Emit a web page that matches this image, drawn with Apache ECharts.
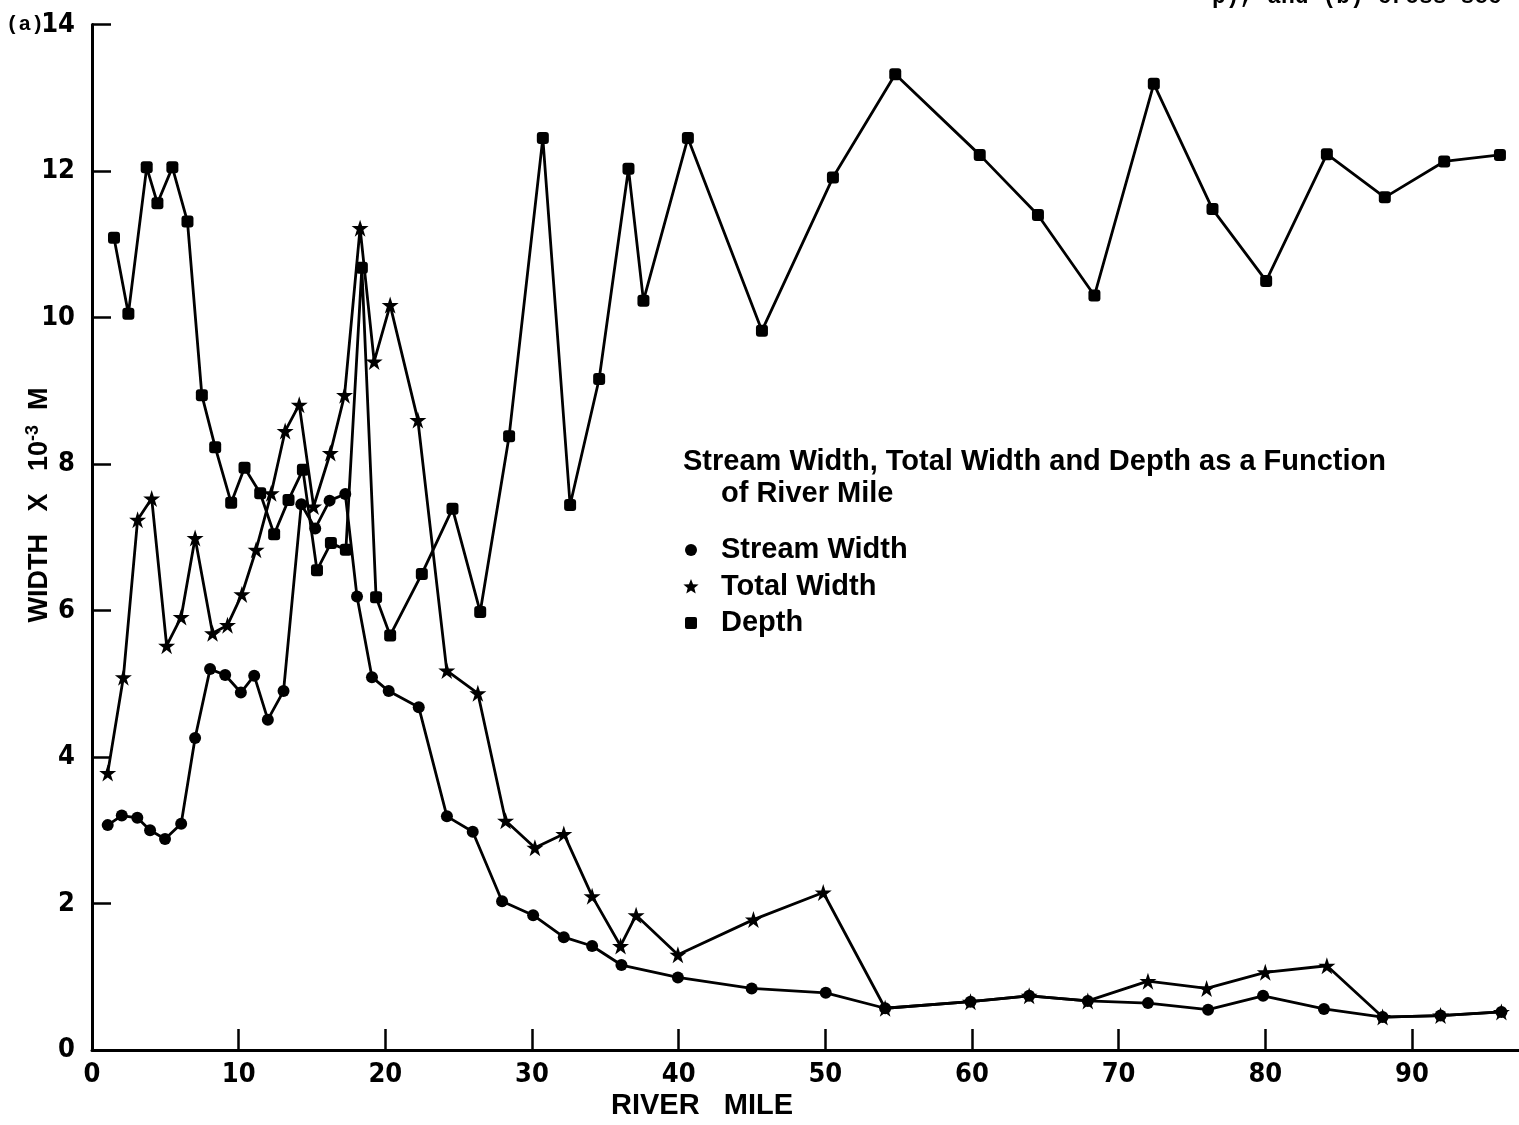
<!DOCTYPE html>
<html><head><meta charset="utf-8">
<script src="https://cdn.jsdelivr.net/npm/echarts@6/dist/echarts.min.js"></script>
<style>html,body{margin:0;padding:0;background:#fff}#c{width:1519px;height:1125px}</style>
</head><body><div id="c"></div>
<script>
const FONT = "'Liberation Sans Narrow','DejaVu Sans Condensed','Liberation Sans',Arial,sans-serif";
const TFONT = "'Liberation Sans','DejaVu Sans',Arial,sans-serif";
const xTicks = [0,10,20,30,40,50,60,70,80,90];
const yTicks = [0,2,4,6,8,10,12,14];

const streamMiles  = [1.07,2.03,3.09,3.96,4.98,6.08,7.03,8.05,9.08,10.15,11.06,11.99,13.06,14.27,15.22,16.2,17.27,18.07,19.09,20.23,22.28,24.2,25.96,27.96,30.08,32.17,34.1,36.1,39.95,44.98,50.03,54.08,59.9,63.9,67.9,72.0,76.1,79.85,84.0,88.0,91.95,96.1];
const streamValues = [3.07,3.20,3.17,3.00,2.88,3.09,4.26,5.20,5.12,4.88,5.11,4.51,4.90,7.45,7.12,7.50,7.59,6.19,5.09,4.90,4.68,3.19,2.98,2.03,1.84,1.54,1.42,1.16,0.99,0.84,0.78,0.57,0.66,0.74,0.67,0.64,0.55,0.74,0.56,0.45,0.47,0.52];

const totalMiles  = [1.07,2.14,3.11,4.07,5.09,6.08,7.03,8.22,9.24,10.22,11.19,12.22,13.17,14.13,15.11,16.25,17.22,18.28,19.24,20.33,22.22,24.19,26.31,28.2,30.2,32.17,34.1,36.04,37.1,39.95,45.1,49.86,54.08,59.9,63.9,67.9,72.0,76.0,80.0,84.2,88.0,91.95,96.1];
const totalValues = [3.78,5.09,7.24,7.53,5.52,5.91,6.99,5.69,5.80,6.22,6.83,7.60,8.45,8.81,7.42,8.15,8.94,11.22,9.40,10.17,8.60,5.18,4.87,3.13,2.76,2.95,2.10,1.42,1.84,1.30,1.78,2.15,0.57,0.66,0.74,0.67,0.94,0.84,1.06,1.15,0.45,0.47,0.52];

const depthMiles  = [1.5,2.48,3.73,4.46,5.48,6.51,7.49,8.4,9.49,10.4,11.47,12.42,13.4,14.38,15.34,16.29,17.31,18.4,19.37,20.33,22.49,24.58,26.47,28.44,30.74,32.6,34.58,36.58,37.6,40.63,45.68,50.52,54.77,60.53,64.5,68.35,72.4,76.4,80.06,84.2,88.15,92.2,96.0];
const depthValues = [11.09,10.05,12.05,11.56,12.05,11.31,8.94,8.23,7.47,7.95,7.60,7.04,7.51,7.92,6.55,6.92,6.83,10.68,6.18,5.66,6.50,7.39,5.98,8.38,12.45,7.44,9.16,12.03,10.23,12.45,9.82,11.91,13.32,12.22,11.40,10.30,13.19,11.48,10.50,12.23,11.64,12.13,12.22];

const seriesNames = ['Stream Width','Total Width','Depth'];

function pairs(m, v) { return m.map((x, i) => [x, v[i]]); }
const STAR = 'path://M50,0L61.8,35.3L99,35.3L69,57.1L80.9,92.7L50,70.5L19.1,92.7L31,57.1L1,35.3L38.2,35.3Z';

function starPoints(cx, cy, ro, ri) {
  const pts = [];
  for (let i = 0; i < 10; i++) {
    const r = i % 2 === 0 ? ro : ri;
    const a = -Math.PI / 2 + i * Math.PI / 5;
    pts.push([cx + r * Math.cos(a), cy + r * Math.sin(a)]);
  }
  return pts;
}

const chart = echarts.init(document.getElementById('c'), null, {renderer: 'canvas'});
const lineStyle = {color: '#000', width: 2.8};
const option = {
  animation: false,
  backgroundColor: '#fff',
  grid: {left: 92, right: 0, top: 24.5, bottom: 75, containLabel: false},
  xAxis: {
    type: 'value', min: 0, max: 97.3, interval: 10,
    axisLine: {lineStyle: {color: '#000', width: 3}},
    axisTick: {inside: true, length: 21, lineStyle: {color: '#000', width: 2.5}},
    axisLabel: {color: '#000', fontFamily: FONT, fontWeight: 'bold', fontSize: 27, margin: 11,
      showMaxLabel: false, formatter: v => xTicks.includes(v) ? String(v) : ''},
    splitLine: {show: false}
  },
  yAxis: {
    type: 'value', min: 0, max: 14, interval: 2,
    axisLine: {lineStyle: {color: '#000', width: 3}},
    axisTick: {inside: true, length: 19, lineStyle: {color: '#000', width: 2.5}},
    axisLabel: {color: '#000', fontFamily: FONT, fontWeight: 'bold', fontSize: 27, margin: 17,
      formatter: v => yTicks.includes(v) ? String(v) : ''},
    splitLine: {show: false}
  },
  series: [
    {name: seriesNames[0], type: 'line', data: pairs(streamMiles, streamValues),
     symbol: 'circle', symbolSize: 12, lineStyle, itemStyle: {color: '#000'}, z: 3},
    {name: seriesNames[1], type: 'line', data: pairs(totalMiles, totalValues),
     symbol: STAR, symbolSize: 17, lineStyle, itemStyle: {color: '#000'}, z: 3},
    {name: seriesNames[2], type: 'line', data: pairs(depthMiles, depthValues),
     symbol: 'roundRect', symbolSize: 12, lineStyle, itemStyle: {color: '#000'}, z: 3}
  ],
  graphic: [
    {type: 'text', left: 6, top: 14, style: {text: '(a)', fill: '#000',
      font: "bold 21px 'Liberation Mono','DejaVu Sans Mono',monospace"}},
    {type: 'text', x: 40, y: 505, rotation: Math.PI / 2,
      style: {text: '{a|WIDTH   X   10}{s|-3}{a|  M}', align: 'center', verticalAlign: 'middle', fill: '#000',
        rich: {a: {fontFamily: TFONT, fontWeight: 'bold', fontSize: 27, fill: '#000', lineHeight: 32},
               s: {fontFamily: TFONT, fontWeight: 'bold', fontSize: 18, fill: '#000', verticalAlign: 'top', lineHeight: 32}}}},
    {type: 'text', x: 702, y: 1106, style: {text: 'RIVER   MILE', align: 'center', verticalAlign: 'middle', fill: '#000',
      font: 'bold 29px ' + TFONT}},
    {type: 'text', x: 683, y: 462, style: {text: 'Stream Width, Total Width and Depth as a Function', align: 'left', verticalAlign: 'middle', fill: '#000',
      font: 'bold 29px ' + TFONT}},
    {type: 'text', x: 721, y: 494, style: {text: 'of River Mile', align: 'left', verticalAlign: 'middle', fill: '#000',
      font: 'bold 29px ' + TFONT}},
    {type: 'circle', shape: {cx: 691, cy: 550, r: 6}, style: {fill: '#000'}},
    {type: 'polygon', shape: {points: starPoints(691, 587, 8, 3.5)}, style: {fill: '#000'}},
    {type: 'rect', shape: {x: 685, y: 617, width: 12, height: 12, r: 2}, style: {fill: '#000'}},
    {type: 'text', x: 721, y: 550, style: {text: seriesNames[0], align: 'left', verticalAlign: 'middle', fill: '#000', font: 'bold 29px ' + TFONT}},
    {type: 'text', x: 721, y: 587, style: {text: seriesNames[1], align: 'left', verticalAlign: 'middle', fill: '#000', font: 'bold 29px ' + TFONT}},
    {type: 'text', x: 721, y: 623, style: {text: seriesNames[2], align: 'left', verticalAlign: 'middle', fill: '#000', font: 'bold 29px ' + TFONT}},
    {type: 'text', x: 1212, y: 9, style: {text: 'p), and (b) cross sec', align: 'left', verticalAlign: 'bottom', fill: '#000',
      font: "bold 23px 'Liberation Mono','DejaVu Sans Mono',monospace"}}
  ]
};
chart.setOption(option);
</script>
</body></html>
